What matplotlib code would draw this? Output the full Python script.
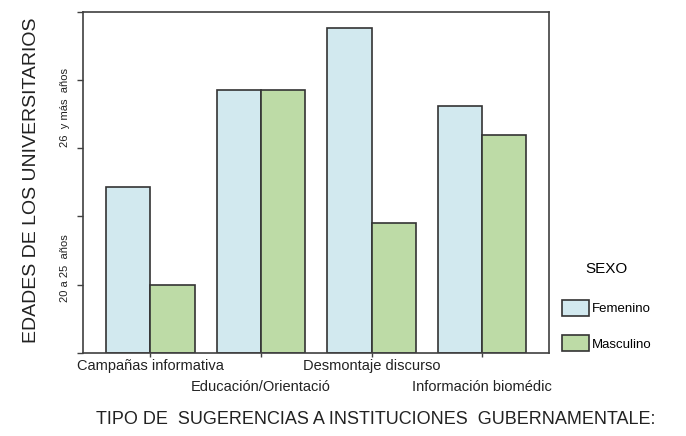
import numpy as np
import matplotlib.pyplot as plt

plt.rcParams['font.family'] = ['Liberation Sans', 'DejaVu Sans']

# data
categories = ['Campañas informativa', 'Educación/Orientació',
              'Desmontaje discurso', 'Información biomédic']
femenino = [2.43, 3.85, 4.76, 3.61]
masculino = [1.0, 3.85, 1.90, 3.19]
series_names = ['Femenino', 'Masculino']
y_labels = ['20 a 25  años', '26  y más  años']
y_label_pos = [1.24, 3.60]

col_fem = '#d2e9ef'
col_masc = '#bddba6'
edge = '#333333'

fig = plt.figure(figsize=(6.86, 4.36), dpi=100)
ax = fig.add_axes([0.1214, 0.191, 0.6793, 0.7822])

x = np.arange(len(categories))
w = 0.40
ax.bar(x - w / 2, femenino, w, color=col_fem, edgecolor=edge, linewidth=1.2,
       label=series_names[0])
ax.bar(x + w / 2, masculino, w, color=col_masc, edgecolor=edge, linewidth=1.2,
       label=series_names[1])

ax.set_xlim(-0.607, 3.607)
ax.set_ylim(0, 5)

for s in ax.spines.values():
    s.set_color('#404040')
    s.set_linewidth(1.2)

# y axis: ticks only, value labels placed as rotated text
ax.set_yticks(np.arange(0, 6))
ax.set_yticklabels([])
ax.tick_params(axis='y', direction='out', length=4, width=1, color='#404040')
for lab, yp in zip(y_labels, y_label_pos):
    ax.text(-0.039, yp, lab, transform=ax.get_yaxis_transform(), rotation=90,
            ha='center', va='center', fontsize=8, color='#222222')

# x axis: alternating two-row labels
ax.set_xticks(x)
ax.set_xticklabels(categories, fontsize=10.5, color='#222222')
ax.tick_params(axis='x', direction='out', length=3, width=1, color='#404040')
for i, t in enumerate(ax.xaxis.get_major_ticks()):
    t.set_pad(1.5 if i % 2 == 0 else 16.5)

fig.text(0.046, 0.587, 'EDADES DE LOS UNIVERSITARIOS', rotation=90,
         ha='center', va='center', fontsize=14, color='#222222')
fig.text(0.547, 0.038, 'TIPO DE  SUGERENCIAS A INSTITUCIONES  GUBERNAMENTALE:',
         ha='center', va='center', fontsize=13, color='#222222')

leg = ax.legend(loc='upper left', bbox_to_anchor=(561.7 / 686, 1 - 262 / 436),
                bbox_transform=fig.transFigure, frameon=False, title='SEXO',
                fontsize=9.5, title_fontsize=11, borderpad=0, borderaxespad=0,
                handlelength=2.1, handleheight=1.5, handletextpad=0.2,
                labelspacing=1.48)
leg._legend_box.sep = 17

fig.savefig('out.png', dpi=100)
